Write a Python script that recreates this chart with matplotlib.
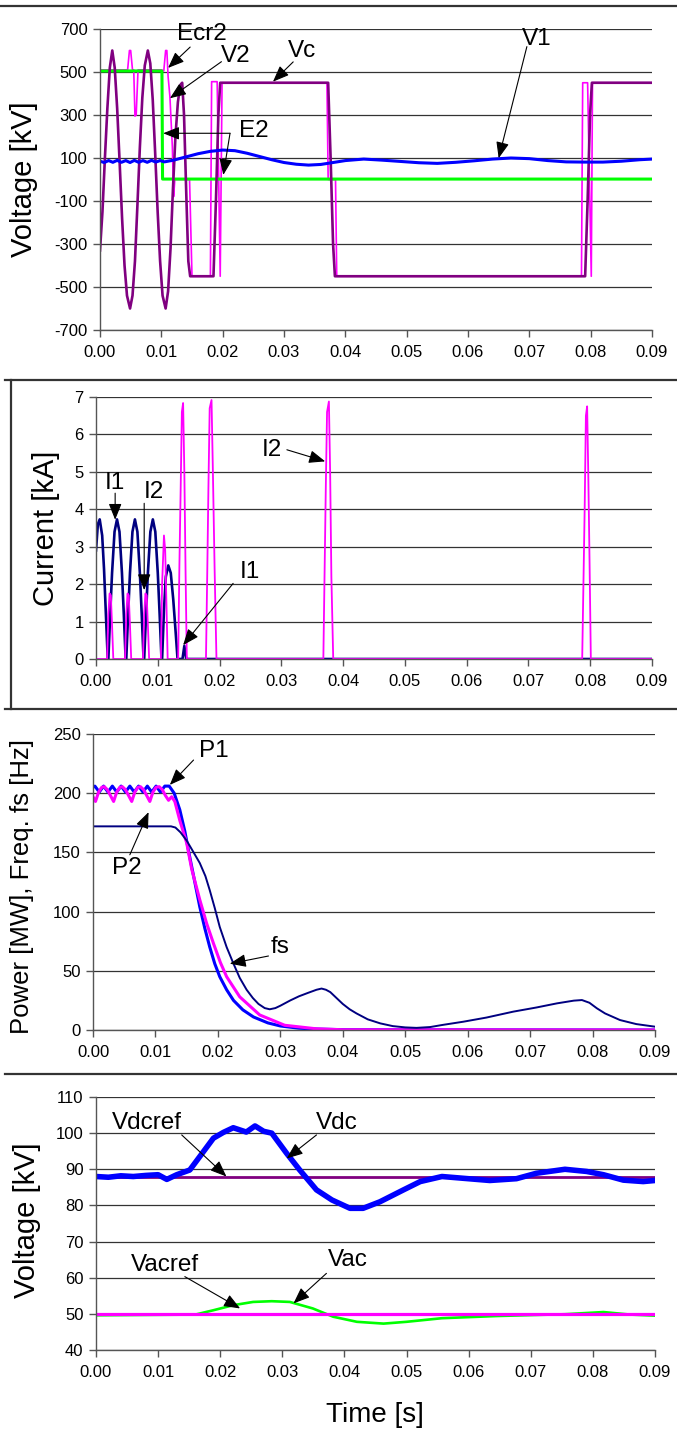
import matplotlib
matplotlib.use("Agg")
import matplotlib.pyplot as plt
from matplotlib.lines import Line2D
from matplotlib.ticker import FormatStrFormatter

plt.rcParams['font.family'] = ['Liberation Sans', 'DejaVu Sans']
plt.rcParams['axes.unicode_minus'] = False

# ---------------- data ----------------
time_ticks = [0.00, 0.01, 0.02, 0.03, 0.04, 0.05, 0.06, 0.07, 0.08, 0.09]

# panel 1 : voltages [kV]
t_v2 = [0.0000, 0.0004, 0.0008, 0.0012, 0.0016, 0.0020, 0.0024, 0.0028, 0.0032, 0.0036,
        0.0040, 0.0044, 0.0049, 0.0053, 0.0057, 0.0061, 0.0065, 0.0069, 0.0073, 0.0078,
        0.0082, 0.0086, 0.0090, 0.0094, 0.0098, 0.0102, 0.0107, 0.0111, 0.0115, 0.0119,
        0.0123, 0.0127, 0.0131, 0.0134, 0.0137, 0.0141, 0.0144, 0.0147, 0.0185, 0.0189,
        0.0193, 0.0196, 0.0372, 0.0376, 0.0380, 0.0383, 0.0791, 0.0795, 0.0799, 0.0802, 0.0900]
v2 = [-330, -150, 100, 330, 520, 600, 520, 330, 80, -180,
      -400, -540, -600, -540, -380, -120, 150, 380, 530, 600,
      540, 370, 120, -150, -380, -540, -600, -520, -320, -40,
      200, 360, 440, 450, 300, -100, -380, -450, -450, -100,
      300, 450, 450, 100, -300, -450, -450, -100, 300, 450, 450]

t_ecr2 = [0.0000, 0.0045, 0.0048, 0.0050, 0.0053, 0.0055, 0.0057, 0.0059, 0.0062, 0.0100,
          0.0104, 0.0107, 0.0109, 0.0111, 0.0114, 0.0118, 0.0120, 0.0122, 0.0146, 0.0150,
          0.0180, 0.0182, 0.0191, 0.0196, 0.0199, 0.0370, 0.0372, 0.0384, 0.0386, 0.0785,
          0.0787, 0.0795, 0.0801, 0.0803, 0.0900]
ecr2 = [510, 510, 600, 600, 510, 510, 295, 300, 510, 510,
        505, 600, 600, 480, 385, 150, -80, 0, 0, -450,
        -450, 455, 455, -450, 450, 450, 0, 0, -450, -450,
        450, 450, -450, 450, 450]

t_e2 = [0.0000, 0.0101, 0.0102, 0.0900]
e2 = [505, 505, 2, 2]

t_v1 = [0.0000, 0.0007, 0.0014, 0.0021, 0.0028, 0.0035, 0.0042, 0.0049, 0.0056, 0.0063,
        0.0070, 0.0077, 0.0084, 0.0091, 0.0098, 0.0105, 0.012, 0.014, 0.016, 0.018,
        0.020, 0.022, 0.024, 0.026, 0.028, 0.030, 0.032, 0.034, 0.036, 0.038,
        0.040, 0.043, 0.046, 0.049, 0.052, 0.055, 0.058, 0.061, 0.064, 0.067,
        0.070, 0.073, 0.076, 0.079, 0.082, 0.085, 0.088, 0.090]
v1 = [85, 79, 88, 80, 89, 80, 88, 79, 89, 80,
      88, 80, 89, 81, 88, 82, 90, 105, 120, 131,
      137, 134, 122, 107, 92, 79, 71, 67, 70, 79,
      88, 95, 90, 84, 78, 75, 80, 87, 95, 100,
      97, 88, 82, 81, 81, 85, 92, 95]

# panel 2 : currents [kA]
t_i1 = [0.0000, 0.0003, 0.0006, 0.0010, 0.0013, 0.0016, 0.0019,
        0.0020, 0.0023, 0.0026, 0.0030, 0.0034, 0.0038, 0.0042, 0.0045, 0.0048,
        0.0049, 0.0052, 0.0055, 0.0059, 0.0063, 0.0067, 0.0071, 0.0074, 0.0077,
        0.0078, 0.0081, 0.0084, 0.0088, 0.0092, 0.0096, 0.0100, 0.0103, 0.0106,
        0.0107, 0.0110, 0.0113, 0.0117, 0.0121, 0.0125, 0.0129, 0.0132,
        0.0140, 0.0143, 0.0146, 0.0900]
i1 = [2.9, 3.6, 3.73, 3.3, 2.4, 1.2, 0.0,
      0.0, 1.2, 2.3, 3.4, 3.73, 3.4, 2.3, 1.2, 0.0,
      0.0, 1.2, 2.3, 3.4, 3.73, 3.4, 2.3, 1.2, 0.0,
      0.0, 1.2, 2.3, 3.4, 3.73, 3.4, 2.3, 1.2, 0.0,
      0.0, 1.3, 2.2, 2.5, 2.3, 1.6, 0.7, 0.0,
      0.0, 0.35, 0.0, 0.0]

t_i2 = [0.0000, 0.0018, 0.0020, 0.0022, 0.0024, 0.0026, 0.0028,
        0.0047, 0.0049, 0.0051, 0.0053, 0.0055, 0.0057,
        0.0076, 0.0078, 0.0080, 0.0082, 0.0084, 0.0086,
        0.0105, 0.0107, 0.0110, 0.0112, 0.0114, 0.0116,
        0.0133, 0.0135, 0.0137, 0.0139, 0.0141, 0.0143, 0.0145, 0.0147,
        0.0178, 0.0180, 0.0182, 0.0184, 0.0187, 0.0189, 0.0192, 0.0195,
        0.0368, 0.0370, 0.0372, 0.0374, 0.0377, 0.0379, 0.0381, 0.0384,
        0.0787, 0.0789, 0.0791, 0.0793, 0.0795, 0.0797, 0.0799, 0.0801, 0.0900]
i2 = [0, 0, 1.2, 1.75, 1.7, 0.9, 0,
      0, 1.2, 1.75, 1.7, 0.9, 0,
      0, 1.2, 1.75, 1.7, 0.9, 0,
      0, 2.0, 3.3, 2.9, 1.5, 0,
      0, 2.5, 4.5, 6.6, 6.84, 5.0, 2.3, 0,
      0, 2.2, 4.6, 6.7, 6.92, 5.2, 2.4, 0,
      0, 2.3, 4.6, 6.6, 6.88, 5.0, 2.2, 0,
      0, 2.0, 4.0, 6.5, 6.75, 4.8, 2.5, 0, 0]

# panel 3 : power [MW] and frequency fs [Hz]
t_p1 = [0.0000, 0.0003, 0.0010, 0.0017, 0.0024, 0.0031, 0.0038, 0.0045, 0.0052, 0.0059,
        0.0066, 0.0073, 0.0080, 0.0087, 0.0094, 0.0101, 0.0108, 0.0115, 0.0122, 0.0130,
        0.0139, 0.0147, 0.0155, 0.0163, 0.0171, 0.0179, 0.0187, 0.0195, 0.0203, 0.0214,
        0.0225, 0.0240, 0.0257, 0.0280, 0.0300, 0.0330, 0.0358, 0.0400, 0.0900]
p1 = [205, 206, 201, 206, 201, 206, 201, 206, 201, 206,
      201, 206, 201, 206, 201, 206, 201, 206, 206, 200,
      186, 168, 146, 125, 104, 86, 70, 56, 45, 34,
      25, 17, 11, 6, 3.4, 1.5, 0.8, 0.3, 0]

t_p2 = [0.0000, 0.0004, 0.0009, 0.0014, 0.0018, 0.0023, 0.0028, 0.0033, 0.0038, 0.0043,
        0.0047, 0.0052, 0.0057, 0.0062, 0.0067, 0.0072, 0.0076, 0.0081, 0.0086, 0.0091,
        0.0096, 0.0101, 0.0106, 0.0111, 0.0116, 0.0121, 0.0126, 0.0131, 0.0139, 0.0150,
        0.0158, 0.0171, 0.0182, 0.0193, 0.0204, 0.0214, 0.0235, 0.0267, 0.0307, 0.0358,
        0.0400, 0.0900]
p2 = [197, 193, 201, 205, 205.5, 203, 198, 193, 201, 205,
      205.5, 203, 198, 193, 201, 205, 205.5, 203, 198, 193,
      201, 205, 205.5, 203, 198, 194, 197, 193, 177, 158,
      136, 110, 90, 73, 57, 45, 28, 12.7, 4, 1,
      0.2, 0]

t_fs = [0.0000, 0.0125, 0.0132, 0.0140, 0.0150, 0.0160, 0.0171, 0.0180, 0.0187, 0.0195,
        0.0203, 0.0214, 0.0225, 0.0235, 0.0246, 0.0256, 0.0265, 0.0275, 0.0283, 0.0292,
        0.0300, 0.0316, 0.0330, 0.0345, 0.0358, 0.0366, 0.0373, 0.0380, 0.0390, 0.0400,
        0.0411, 0.0422, 0.0440, 0.0460, 0.0480, 0.0500, 0.0518, 0.0540, 0.0560, 0.0593,
        0.0630, 0.0673, 0.0710, 0.0743, 0.0770, 0.0783, 0.0795, 0.0807, 0.0820, 0.0844,
        0.0870, 0.0900]
fs = [172, 172, 171, 167, 160, 151, 141, 130, 118, 103,
      87, 70, 56, 44, 34, 27, 22, 18.5, 17.5, 18.5,
      20.5, 25, 28.5, 31.5, 34, 35, 34, 32, 27, 22,
      17.5, 14, 9, 5.6, 3.3, 2.2, 1.8, 2.5, 4.3, 7,
      10.5, 15.5, 19, 22.5, 24.8, 25.3, 23, 18.3, 14, 8.4,
      5, 2.8]

# panel 4 : dc and ac voltages [kV]
t_vdc = [0.000, 0.002, 0.004, 0.006, 0.008, 0.010, 0.0114, 0.013, 0.0151, 0.0167,
         0.0189, 0.0205, 0.0221, 0.0242, 0.0256, 0.0270, 0.0283, 0.0307, 0.0328, 0.0355,
         0.0380, 0.0409, 0.0430, 0.0457, 0.0495, 0.0522, 0.0557, 0.0592, 0.0634, 0.0677,
         0.0709, 0.0755, 0.0790, 0.0817, 0.0849, 0.0881, 0.0900]
vdc = [88, 87.8, 88.2, 88, 88.3, 88.5, 87.2, 88.5, 89.8, 93.5,
       98.6, 100.2, 101.5, 100.3, 102, 100.5, 100, 94.4, 89.8, 84.3,
       81.5, 79.2, 79.2, 81, 84.3, 86.6, 88, 87.5, 86.9, 87.4,
       88.9, 90, 89.4, 88.5, 87, 86.6, 86.9]

t_ref = [0.00, 0.09]
vdcref = [88, 88]
vacref = [50, 50]

t_vac = [0.000, 0.016, 0.0189, 0.0221, 0.0253, 0.0283, 0.0312, 0.0349, 0.0382, 0.0420,
         0.0463, 0.0500, 0.0557, 0.0645, 0.0755, 0.0817, 0.0860, 0.0900]
vac = [49.6, 49.8, 51, 52.4, 53.3, 53.5, 53.3, 51.5, 49.2, 47.8,
       47.3, 47.8, 48.8, 49.4, 49.9, 50.5, 49.8, 49.5]

PURPLE = '#800080'
MAGENTA = '#ff00ff'
GREEN = '#00ff00'
BLUE = '#0000ff'
NAVY = '#000080'

W, H = 677, 1434
fig = plt.figure(figsize=(W / 100, H / 100), dpi=100)


def panel(left, top, right, bottom, ylim, yticks):
    ax = fig.add_axes([left / W, 1 - bottom / H, (right - left) / W, (bottom - top) / H])
    ax.set_xlim(0, 0.09)
    ax.set_ylim(*ylim)
    ax.set_xticks(time_ticks)
    ax.set_yticks(yticks)
    ax.xaxis.set_major_formatter(FormatStrFormatter('%.2f'))
    ax.yaxis.grid(True, color='#333333', lw=0.9)
    ax.set_axisbelow(True)
    for s in ('top', 'right'):
        ax.spines[s].set_visible(False)
    for s in ('left', 'bottom'):
        ax.spines[s].set_color('#555555')
        ax.spines[s].set_linewidth(1.0)
    ax.tick_params(direction='out', length=5, width=1, color='#555555', labelsize=12)
    ax.tick_params(axis='x', pad=6)
    ax.tick_params(axis='y', pad=4)
    return ax


def arrow(ax, tip, start):
    ax.annotate('', xy=tip, xytext=start,
                arrowprops=dict(arrowstyle='-|>,head_length=0.55,head_width=0.22',
                                color='black', lw=0.8, mutation_scale=18,
                                shrinkA=0, shrinkB=0))


def label(ax, x, y, s, size=17.5):
    ax.text(x, y, s, fontsize=size, ha='center', va='center')


def ylabel(x_px, y_px, s, size=21):
    fig.text(x_px / W, 1 - y_px / H, s, rotation=90, fontsize=size,
             ha='center', va='center')


def hline(y_px, x0, x1):
    fig.add_artist(Line2D([x0 / W, x1 / W], [1 - y_px / H, 1 - y_px / H],
                          transform=fig.transFigure, color='#333333', lw=1.6))


# frame lines between panels
hline(6, 0, W)
hline(380, 5, W)
hline(709, 5, W)
hline(1074, 5, W)
fig.add_artist(Line2D([11 / W, 11 / W], [1 - 380 / H, 1 - 709 / H],
                      transform=fig.transFigure, color='#333333', lw=1.6))

# ---------------- panel 1 ----------------
ax1 = panel(100, 29, 652, 330, (-700, 700), [-700, -500, -300, -100, 100, 300, 500, 700])
ax1.plot(t_ecr2, ecr2, color=MAGENTA, lw=1.2)
ax1.plot(t_e2, e2, color=GREEN, lw=2.2)
ax1.plot(t_v2, v2, color=PURPLE, lw=1.9)
ax1.plot(t_v1, v1, color=BLUE, lw=2.2)
label(ax1, 0.0166, 676, 'Ecr2')
arrow(ax1, (0.0111, 519), (0.0147, 616))
label(ax1, 0.0222, 576, 'V2')
arrow(ax1, (0.0114, 378), (0.0198, 548))
label(ax1, 0.0329, 598, 'Vc')
arrow(ax1, (0.0282, 455), (0.0315, 547))
label(ax1, 0.0250, 226, 'E2')
arrow(ax1, (0.0103, 215), (0.0212, 215))
arrow(ax1, (0.0201, 21), (0.0212, 215))
label(ax1, 0.0712, 652, 'V1')
arrow(ax1, (0.0650, 99), (0.0696, 618))
ylabel(24, 179, 'Voltage [kV]')

# ---------------- panel 2 ----------------
ax2 = panel(96, 397, 652, 659, (0, 7), [0, 1, 2, 3, 4, 5, 6, 7])
ax2.plot(t_i1, i1, color=NAVY, lw=1.9)
ax2.plot(t_i2, i2, color=MAGENTA, lw=1.3)
label(ax2, 0.0031, 4.70, 'I1')
arrow(ax2, (0.0031, 3.72), (0.0031, 4.43))
label(ax2, 0.0093, 4.47, 'I2')
arrow(ax2, (0.0078, 1.84), (0.0078, 4.16))
label(ax2, 0.0249, 2.33, 'I1')
arrow(ax2, (0.0141, 0.37), (0.0222, 2.02))
label(ax2, 0.0284, 5.59, 'I2')
arrow(ax2, (0.0371, 5.28), (0.0309, 5.59))
ylabel(46, 528, 'Current [kA]')

# ---------------- panel 3 ----------------
ax3 = panel(93, 734, 655, 1030, (0, 250), [0, 50, 100, 150, 200, 250])
ax3.plot(t_p1, p1, color=BLUE, lw=2.2)
ax3.plot(t_p2, p2, color=MAGENTA, lw=2.2)
ax3.plot(t_fs, fs, color=NAVY, lw=1.4)
label(ax3, 0.0193, 236, 'P1')
arrow(ax3, (0.0123, 207), (0.0161, 228))
label(ax3, 0.0054, 137, 'P2')
arrow(ax3, (0.0089, 184), (0.0059, 148))
label(ax3, 0.0300, 70, 'fs')
arrow(ax3, (0.0219, 56), (0.0281, 62.5))
ylabel(22, 886, 'Power [MW], Freq. fs [Hz]', size=18.5)

# ---------------- panel 4 ----------------
ax4 = panel(96, 1097, 655, 1350, (40, 110), [40, 50, 60, 70, 80, 90, 100, 110])
ax4.plot(t_vac, vac, color=GREEN, lw=1.9)
ax4.plot(t_ref, vacref, color=MAGENTA, lw=2.3)
ax4.plot(t_ref, vdcref, color=PURPLE, lw=2.0)
ax4.plot(t_vdc, vdc, color=BLUE, lw=4.0)
label(ax4, 0.0082, 102.7, 'Vdcref')
arrow(ax4, (0.0210, 88), (0.0138, 99.5))
label(ax4, 0.0387, 102.7, 'Vdc')
arrow(ax4, (0.0307, 93), (0.0355, 99.5))
label(ax4, 0.0111, 63.5, 'Vacref')
arrow(ax4, (0.0232, 51.5), (0.0143, 60.3))
label(ax4, 0.0405, 64.9, 'Vac')
arrow(ax4, (0.0318, 52.9), (0.0371, 61.2))
ylabel(27, 1220, 'Voltage [kV]')
fig.text(375 / W, 1 - 1415 / H, 'Time [s]', fontsize=20, ha='center', va='center')

fig.savefig('out.png', dpi=100)
